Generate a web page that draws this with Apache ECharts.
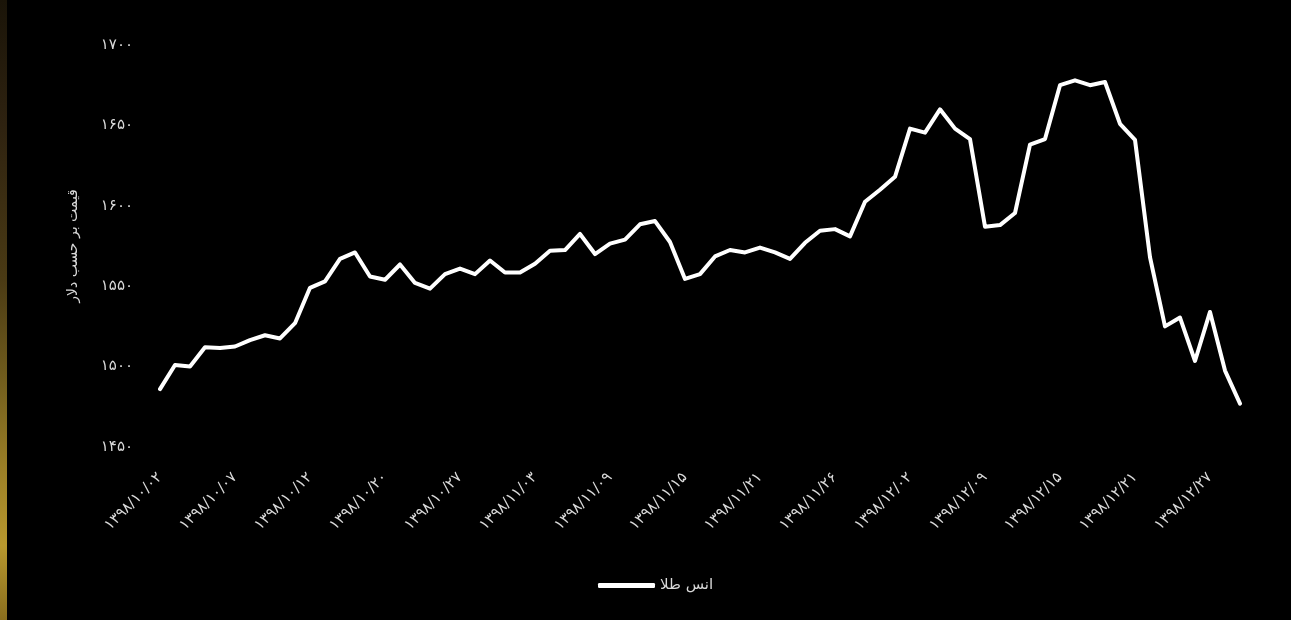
<!DOCTYPE html>
<html>
<head>
<meta charset="utf-8">
<script src="https://cdn.jsdelivr.net/npm/echarts@6/dist/echarts.min.js"></script>
<style>
html,body{margin:0;padding:0;background:#000;}
#wrap{position:relative;width:1291px;height:620px;background:#000;overflow:hidden;}
#chart{position:absolute;left:0;top:0;width:1291px;height:620px;}
#strip{position:absolute;left:0;top:0;width:7px;height:620px;
background:linear-gradient(to bottom,#1a1408 0%,#2e2210 20%,#4a3a14 45%,#6e5a1c 60%,#9a7e26 75%,#b8982e 88%,#8a6e1e 100%);}
</style>
</head>
<body>
<div id="wrap"><div id="chart"></div><div id="strip"></div></div>
<script>
// Tick labels shown on the x axis (every 5th point)
const tickLabels = ['۱۳۹۸/۱۰/۰۲','۱۳۹۸/۱۰/۰۷','۱۳۹۸/۱۰/۱۲','۱۳۹۸/۱۰/۲۰','۱۳۹۸/۱۰/۲۷',
  '۱۳۹۸/۱۱/۰۳','۱۳۹۸/۱۱/۰۹','۱۳۹۸/۱۱/۱۵','۱۳۹۸/۱۱/۲۱','۱۳۹۸/۱۱/۲۶',
  '۱۳۹۸/۱۲/۰۲','۱۳۹۸/۱۲/۰۹','۱۳۹۸/۱۲/۱۵','۱۳۹۸/۱۲/۲۱','۱۳۹۸/۱۲/۲۷'];
// Gold ounce price (USD)
const goldPrice = [
  1486,1501,1500,1512,1511.5,1512.5,1516.5,1519.5,1517.5,1527,
  1549,1553,1567,1571,1556,1554,1563.5,1552,1548.5,1557.5,
  1561,1557.5,1566,1558.5,1558.5,1564,1572,1572.5,1582.5,1570,
  1576.5,1579,1588.5,1590.5,1577.5,1554.5,1557.5,1568.5,1572.5,1571,
  1574,1571,1567,1577,1584.5,1585.5,1581,1602.5,1610,1618,
  1648,1645.5,1660,1648,1641.5,1587,1588,1595.5,1638,1641.5,
  1675,1678,1675,1677,1651,1641,1568,1525,1530.5,1503.5,
  1534,1497.5,1477
];
const seriesName = 'انس طلا';
const yAxisName = 'قیمت بر حسب دلار';

// categories: labelled every 5th point, unlabeled in between
const categories = [];
for (let i = 0; i < goldPrice.length; i++) {
  categories.push(i % 5 === 0 ? tickLabels[i / 5] : '');
}
const fa = s => String(s).replace(/[0-9]/g, d => '۰۱۲۳۴۵۶۷۸۹'[d]);

const chart = echarts.init(document.getElementById('chart'), null, {renderer:'canvas'});
chart.setOption({
  backgroundColor: '#000',
  animation: false,
  textStyle: {fontFamily: 'DejaVu Sans'},
  grid: {left: 160, right: 51, top: 45, bottom: 173, containLabel: false},
  legend: {
    data: [seriesName], left: 593, top: 573,
    icon: 'roundRect', itemWidth: 57, itemHeight: 5, itemGap: 5,
    textStyle: {color: '#d9d9d9', fontSize: 15, fontFamily: 'DejaVu Sans'}
  },
  xAxis: {
    type: 'category', data: categories, boundaryGap: false,
    axisLine: {show: false}, axisTick: {show: false}, splitLine: {show: false},
    axisLabel: {interval: 4, rotate: 45, margin: 28, color: '#d9d9d9', fontSize: 15, fontFamily: 'DejaVu Sans', hideOverlap: false}
  },
  yAxis: {
    type: 'value', min: 1450, max: 1700, interval: 50,
    name: yAxisName, nameLocation: 'middle', nameGap: 80, nameRotate: 90,
    nameTextStyle: {color: '#d9d9d9', fontSize: 14, fontFamily: 'DejaVu Sans'},
    axisLine: {show: false}, axisTick: {show: false}, splitLine: {show: false},
    axisLabel: {margin: 27, color: '#d9d9d9', fontSize: 15, fontFamily: 'DejaVu Sans', formatter: v => fa(v)}
  },
  series: [{
    name: seriesName, type: 'line', data: goldPrice,
    showSymbol: false, symbol: 'none',
    lineStyle: {color: '#ffffff', width: 4, join: 'round', cap: 'round'},
    itemStyle: {color: '#ffffff'}
  }]
});
</script>
</body>
</html>
